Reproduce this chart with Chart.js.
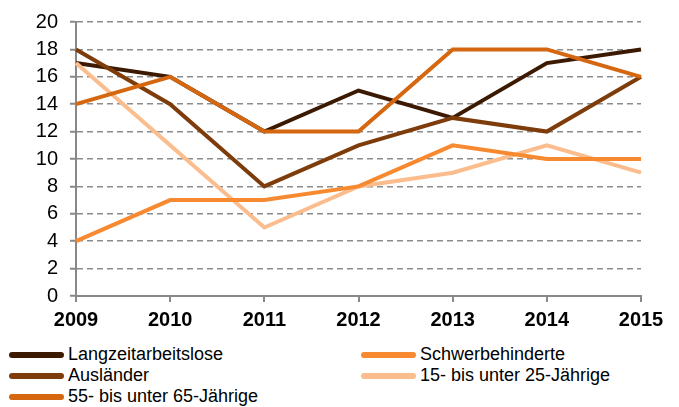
<!DOCTYPE html>
<html>
<head>
<meta charset="utf-8">
<script src="https://cdn.jsdelivr.net/npm/chart.js@4"></script>
<style>
  body { margin: 0; background: #fff; }
  #wrap { position: relative; width: 679px; height: 407px; overflow: hidden; }
  #box { position: absolute; left: 0; top: -2px; width: 679px; height: 336px; }
  #legend { position: absolute; left: 0; top: 344px; width: 679px; }
  .item { position: absolute; height: 21px; display: flex; align-items: center;
          font-family: "Liberation Sans", Arial, sans-serif; font-size: 18px; color: #000; white-space: nowrap; }
  .swatch { width: 55px; height: 6px; border-radius: 3px; margin-right: 4px; }
</style>
</head>
<body>
<div id="wrap">
  <div id="box"><canvas id="chart"></canvas></div>
  <div id="legend"></div>
</div>
<script>
// Data
const years = ['2009', '2010', '2011', '2012', '2013', '2014', '2015'];
const langzeit = [17, 16, 12, 15, 13, 17, 18];
const auslaender = [18, 14, 8, 11, 13, 12, 16];
const aeltere = [14, 16, 12, 12, 18, 18, 16];
const schwerbehindert = [4, 7, 7, 8, 11, 10, 10];
const juengere = [17, 11, 5, 8, 9, 11, 9];

const seriesNames = ['Langzeitarbeitslose', 'Ausländer', '55- bis unter 65-Jährige', 'Schwerbehinderte', '15- bis unter 25-Jährige'];
const seriesData = [langzeit, auslaender, aeltere, schwerbehindert, juengere];
const seriesColors = ['#3c1a02', '#7d3c0a', '#d4670f', '#f78a30', '#fbbd8d'];

// legend slots: [column, row]
const legendSlots = [[0, 0], [0, 1], [0, 2], [1, 0], [1, 1]];

const font = "'Liberation Sans', Arial, sans-serif";

const datasets = seriesNames.map((name, i) => ({
    label: name,
    data: seriesData[i],
    borderColor: seriesColors[i],
    backgroundColor: seriesColors[i],
    borderWidth: 4,
    pointRadius: 0,
    tension: 0,
    fill: false
}));

// draw the 55-65 line on top like the reference, light lines under
const order = [4, 3, 1, 0, 2];
datasets.forEach((ds, i) => { ds.order = order[i]; });

new Chart(document.getElementById('chart').getContext('2d'), {
    type: 'line',
    data: { labels: years, datasets: datasets },
    options: {
        responsive: true,
        maintainAspectRatio: false,
        animation: false,
        layout: { padding: { top: 12, right: 38, bottom: 0, left: 0 } },
        plugins: {
            legend: { display: false },
            tooltip: { enabled: false }
        },
        scales: {
            x: {
                offset: false,
                grid: { drawOnChartArea: false, drawTicks: true, tickLength: 6, color: '#888', lineWidth: 2 },
                border: { display: true, color: '#888', width: 2 },
                ticks: { color: '#000', font: { family: font, size: 20, weight: 'bold' }, padding: 6, maxRotation: 0 },
                afterFit: function(scale) { scale.height = 38; }
            },
            y: {
                min: 0,
                max: 20,
                ticks: { stepSize: 2, color: '#000', font: { family: font, size: 20 }, padding: 12 },
                grid: { color: '#8c8c8c', lineWidth: 1.5, tickLength: 6, tickColor: '#888', tickWidth: 2 },
                border: { display: true, color: '#888', width: 2, dash: [6, 4] },
                afterFit: function(scale) { scale.width = 76; }
            }
        }
    }
});

// HTML legend in two columns
const legend = document.getElementById('legend');
seriesNames.forEach((name, i) => {
    const [col, row] = legendSlots[i];
    const item = document.createElement('div');
    item.className = 'item';
    item.style.left = (col === 0 ? 9 : 361) + 'px';
    item.style.top = (row * 21) + 'px';
    const sw = document.createElement('span');
    sw.className = 'swatch';
    sw.style.background = seriesColors[i];
    item.appendChild(sw);
    item.appendChild(document.createTextNode(name));
    legend.appendChild(item);
});
</script>
</body>
</html>
